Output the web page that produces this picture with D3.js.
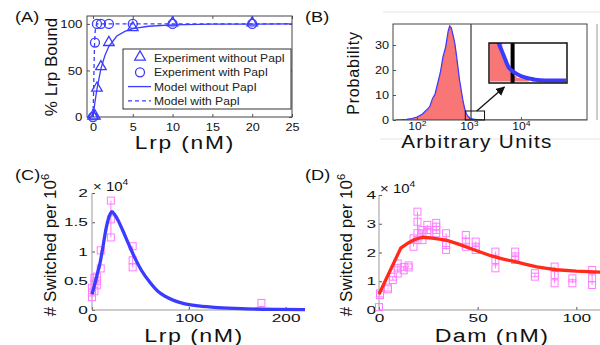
<!DOCTYPE html>
<html>
<head>
<meta charset="utf-8">
<script src="https://cdnjs.cloudflare.com/ajax/libs/d3/7.8.5/d3.min.js"></script>
<style>
  body { margin: 0; background: #fff; }
  svg { font-family: "Liberation Sans", Arial, sans-serif; }
</style>
</head>
<body>
<svg id="fig" width="600" height="345"></svg>
<script>
// ---------- (A) Lrp binding ----------
var aTriX   = [0, 0.25, 0.5, 1, 2, 5, 10, 20];
var aTriY   = [0, 0, 30, 53, 79, 95, 100, 100];
var aCircX  = [0, 0.25, 0.5, 1, 2, 5, 10, 20];
var aCircY  = [0, 80, 100, 100, 100, 100, 100, 100];
var aSolidX = [0, 0.25, 0.5, 1, 1.5, 2, 3, 4, 5, 7, 10, 15, 25];
var aSolidY = [0, 16, 30, 52, 66, 76, 87, 92, 95, 97.5, 99, 99.7, 100];
var aDashX  = [0, 0.05, 0.1, 0.15, 0.2, 0.25, 0.3, 0.4, 0.5, 25];
var aDashY  = [0, 15, 38, 60, 78, 88, 94, 98, 100, 100];
var aXTicks = [0, 5, 10, 15, 20, 25];
var aYTicks = [0, 50, 100];
var aLegend = ["Experiment without PapI", "Experiment with PapI", "Model without PapI", "Model with PapI"];

// ---------- (B) histogram, log10 of arbitrary units ----------
var bRedExp  = [1.6,1.7,1.8,1.9,2.0,2.1,2.2,2.25,2.3,2.35,2.4,2.45,2.5,2.55,2.6,2.63,2.66,2.7,2.73,2.76,2.79,2.82,2.86,2.89,2.92,2.95,2.98,3.02,3.08,3.15,3.25];
var bRed     = [0,0.05,0.2,0.5,1.0,2.0,3.8,5.3,7.5,10,13.5,18.5,24,28.5,34,38,36,33,30,25,20,15,10,6.5,4,2.3,1.3,0.6,0.3,0.1,0];
var bBlueExp = [1.6,1.7,1.8,1.9,2.0,2.1,2.2,2.25,2.3,2.35,2.4,2.45,2.5,2.55,2.6,2.63,2.66,2.7,2.73,2.76,2.79,2.82,2.86,2.89,2.92,2.95,2.98,3.02,3.08,3.15,3.25,4.0,5.3];
var bBlue    = [0,0.1,0.3,0.6,1.2,2.3,4.3,5.6,8.6,10.5,14.8,19,25.2,29,35.5,37.5,37,33.5,30.5,26,21,16,11,7.2,4.5,2.6,1.5,0.8,0.4,0.15,0,0,0];
var bThreshold = 3.04;
var bYTicks = [0, 10, 20, 30];
var bXTicks = [100, 1000, 10000];
var insetExp  = [2.93,2.95,2.97,2.99,3.0,3.01,3.02,3.04,3.06,3.08,3.1,3.12,3.15,3.2,3.3];
var insetRed  = [1.6,1.4,1.2,0.8,0.6,0.45,0.32,0.15,0.1,0.09,0.08,0,0,0,0];
var insetBlue = [1.9,1.6,1.15,0.85,0.7,0.55,0.42,0.3,0.22,0.16,0.12,0.09,0.05,0.03,0.03];

// ---------- (C) switching vs Lrp ----------
var cLrp      = [0, 2.5, 5, 9, 19.5, 42, 175];
var cSwitched = [[0.22,0.3,0.38],[0.32,0.45,0.55],[0.42,0.5,0.57],[0.71,1.02],[1.24,1.55,1.87],[0.73,0.85,1.09],[0.12]];
var cModelX   = [0,3,6,8.5,11,13.5,16,18.5,20.5,23,27,32,37.5,44,51,60,68,76,85,95,110,130,160,190,220];
var cModelY   = [0.27,0.45,0.65,0.82,1.05,1.3,1.5,1.63,1.68,1.64,1.53,1.35,1.14,0.9,0.68,0.47,0.32,0.23,0.16,0.11,0.07,0.04,0.02,0.01,0.005];
var cXTicks = [0, 100, 200];
var cYTicks = [0, 0.5, 1, 1.5, 2];

// ---------- (D) switching vs Dam ----------
var dDam      = [0,0.5,4.5,7,9.5,12.5,15,17.5,19.5,22,24.5,29,34,44,49,59,69,79,89,98,108];
var dSwitched = [[0.1],[0.52,0.58],[0.72,0.78],[1.04,1.16],[1.27,1.45,1.62],[1.38,1.5],[1.48,1.55],[2.2,2.49],[2.43,2.67,3.07,3.42],[2.43,2.67,2.78],[2.67,2.78,2.96],[2.67,2.78,2.9,3.03],[2.09,2.26,2.67],[2.2,2.38,2.61],[2.09,2.2,2.38],[1.45,1.74,2.03],[1.74,1.86,2.03],[1.16,1.28],[0.93,1.22,1.51],[0.93,1.1],[0.87,1.1,1.39]];
var dModelX   = [0,11,13,15,18,22,27,34,40,46,52,57,63,69,75,80,85,90,100,112];
var dModelY   = [0.55,2.15,2.25,2.34,2.45,2.53,2.5,2.43,2.3,2.15,2.0,1.88,1.77,1.68,1.58,1.5,1.45,1.4,1.35,1.32];
var dXTicks = [0, 50, 100];
var dYTicks = [0, 1, 2, 3, 4];

var blue = "#3b3bff", pink = "#ff7cff", red = "#ff2a1a", salmon = "#f87676";
var svg = d3.select("#fig");
var fmt = d3.format("~g");

function styleAxis(g, size, sx) {
  g.select(".domain").remove();
  g.selectAll(".tick line").attr("stroke", "#555");
  g.selectAll(".tick text").attr("font-size", size).attr("fill", "#111")
    .attr("transform", "scale(" + sx + ",1)");
}

// horizontal text, slightly stretched like the original figure
function label(x, y, txt, size, sx, anchor) {
  return svg.append("g").attr("transform", "translate(" + x + "," + y + ")")
    .append("text").attr("transform", "scale(" + sx + ",1)")
    .attr("text-anchor", anchor || "start").attr("font-size", size).attr("fill", "#111").text(txt);
}

function vlabel(x, y, size, main, sup) {
  var t = svg.append("text").attr("transform", "translate(" + x + "," + y + ") rotate(-90)")
    .attr("text-anchor", "middle").attr("font-size", size).attr("fill", "#111");
  t.append("tspan").text(main);
  if (sup) t.append("tspan").attr("dy", -7).attr("font-size", size * 0.65).text(sup);
  return t;
}

function zip(xs, ys) { return xs.map(function(x, i) { return [x, ys[i]]; }); }

// ================= (A) =================
var xA = d3.scaleLinear().domain([-0.75, 25]).range([87, 292]);
var yA = d3.scaleLinear().domain([0, 108.5]).range([117, 16]);

svg.append("g").attr("transform", "translate(0,117)")
  .call(d3.axisBottom(xA).tickValues(aXTicks).tickSizeInner(-3).tickSizeOuter(0).tickPadding(6))
  .call(styleAxis, 11, 1.15);
svg.append("g").attr("transform", "translate(87,0)")
  .call(d3.axisLeft(yA).tickValues(aYTicks).tickSizeInner(-3).tickSizeOuter(0).tickPadding(4))
  .call(styleAxis, 11.5, 1.15);
svg.append("g").attr("transform", "translate(0,16)")
  .call(d3.axisTop(xA).tickValues(aXTicks).tickSizeInner(-3).tickSizeOuter(0).tickFormat(""))
  .call(styleAxis, 11, 1);
svg.append("g").attr("transform", "translate(292,0)")
  .call(d3.axisRight(yA).tickValues(aYTicks).tickSizeInner(-3).tickSizeOuter(0).tickFormat(""))
  .call(styleAxis, 11, 1);
svg.append("rect").attr("x", 87).attr("y", 16).attr("width", 205).attr("height", 101)
  .attr("fill", "none").attr("stroke", "#444");

var lineA = d3.line().x(function(d) { return xA(d[0]); }).y(function(d) { return yA(d[1]); });
svg.append("path").attr("d", lineA(zip(aSolidX, aSolidY))).attr("fill", "none").attr("stroke", blue).attr("stroke-width", 1.3);
svg.append("path").attr("d", lineA(zip(aDashX, aDashY))).attr("fill", "none").attr("stroke", blue)
  .attr("stroke-width", 1.3).attr("stroke-dasharray", "4,3");

var tri = d3.symbol().type(d3.symbolTriangle).size(48);
svg.selectAll(".triA").data(zip(aTriX, aTriY)).enter().append("path")
  .attr("transform", function(d) { return "translate(" + xA(d[0]) + "," + (yA(d[1]) - 1) + ")"; })
  .attr("d", tri).attr("fill", "none").attr("stroke", blue).attr("stroke-width", 1.3);
svg.selectAll(".circA").data(zip(aCircX, aCircY)).enter().append("circle")
  .attr("cx", function(d) { return xA(d[0]); }).attr("cy", function(d) { return yA(d[1]); })
  .attr("r", 4.5).attr("fill", "none").attr("stroke", blue).attr("stroke-width", 1.3);

// legend
var leg = svg.append("g");
leg.append("rect").attr("x", 123).attr("y", 49).attr("width", 168).attr("height", 60)
  .attr("fill", "#fff").attr("stroke", "#333");
aLegend.forEach(function(name, i) {
  var cy = 58 + i * 14.3;
  if (i == 0) leg.append("path").attr("transform", "translate(140," + (cy - 1) + ")").attr("d", tri)
    .attr("fill", "none").attr("stroke", blue).attr("stroke-width", 1.3);
  if (i == 1) leg.append("circle").attr("cx", 140).attr("cy", cy).attr("r", 4.5)
    .attr("fill", "none").attr("stroke", blue).attr("stroke-width", 1.3);
  if (i >= 2) leg.append("line").attr("x1", 128).attr("x2", 151).attr("y1", cy).attr("y2", cy)
    .attr("stroke", blue).attr("stroke-width", 1.3).attr("stroke-dasharray", i == 3 ? "4,3" : null);
  leg.append("g").attr("transform", "translate(154," + (cy + 4) + ")")
    .append("text").attr("transform", "scale(1.1,1)").attr("font-size", 11).attr("fill", "#222").text(name);
});

label(15, 22, "(A)", 14, 1.3);
vlabel(57, 67, 17, "% Lrp Bound");
label(185, 149, "Lrp (nM)", 17.5, 1.3, "middle").attr("letter-spacing", 1.4);

// ================= (B) =================
var xB = d3.scaleLog().domain([Math.pow(10, 1.54), Math.pow(10, 5.27)]).range([393, 587]);
var yB = d3.scaleLinear().domain([0, 38.4]).range([120, 24]);

svg.append("line").attr("x1", 383).attr("x2", 600).attr("y1", 12).attr("y2", 12).attr("stroke", "#e4e4e4");
svg.append("line").attr("x1", 380).attr("x2", 600).attr("y1", 139).attr("y2", 139).attr("stroke", "#e4e4e4");
svg.append("line").attr("x1", 597).attr("x2", 597).attr("y1", 24).attr("y2", 120).attr("stroke", "#999");

svg.append("defs").append("clipPath").attr("id", "clipB")
  .append("rect").attr("x", 393).attr("y", 24).attr("width", 194).attr("height", 96);

var gB = svg.append("g").attr("clip-path", "url(#clipB)");
var areaB = d3.area().x(function(d) { return xB(Math.pow(10, d[0])); }).y0(yB(0)).y1(function(d) { return yB(d[1]); });
var lineB = d3.line().x(function(d) { return xB(Math.pow(10, d[0])); }).y(function(d) { return yB(d[1]); });
gB.append("path").attr("d", areaB(zip(bRedExp, bRed))).attr("fill", salmon).attr("stroke", "#ee4444").attr("stroke-width", 0.7);
gB.append("path").attr("d", lineB(zip(bBlueExp, bBlue))).attr("fill", "none").attr("stroke", blue).attr("stroke-width", 1.2);

svg.append("line").attr("x1", xB(Math.pow(10, bThreshold))).attr("x2", xB(Math.pow(10, bThreshold)))
  .attr("y1", 24).attr("y2", 120).attr("stroke", "#444").attr("stroke-width", 1.3);

svg.append("g").attr("transform", "translate(0,120)")
  .call(d3.axisBottom(xB).tickValues(bXTicks).tickSizeInner(-3).tickSizeOuter(0).tickPadding(3))
  .call(styleAxis, 10.5, 1.15)
  .selectAll(".tick text").each(function(d) {
    var t = d3.select(this).text("");
    t.append("tspan").text("10");
    t.append("tspan").attr("dy", -4).attr("font-size", 7.5).text(Math.round(Math.log10(d)));
  });
svg.append("g").attr("transform", "translate(393,0)")
  .call(d3.axisLeft(yB).tickValues(bYTicks).tickSizeInner(-3).tickSizeOuter(0).tickPadding(3.5))
  .call(styleAxis, 11, 1.15);
svg.append("rect").attr("x", 393).attr("y", 24).attr("width", 194).attr("height", 96)
  .attr("fill", "none").attr("stroke", "#444");

// zoom box and arrow
var boxX0 = xB(Math.pow(10, insetExp[0])), boxX1 = xB(Math.pow(10, insetExp[insetExp.length - 1]));
svg.append("rect").attr("x", boxX0).attr("y", yB(3.6)).attr("width", boxX1 - boxX0).attr("height", yB(0) - yB(3.6))
  .attr("fill", "none").attr("stroke", "#111").attr("stroke-width", 1);

var xIn = d3.scaleLinear().domain([insetExp[0], insetExp[insetExp.length - 1]]).range([490, 566]);
var yIn = d3.scaleLinear().domain([0, 1.1]).range([81.5, 43.5]);
svg.select("defs").append("clipPath").attr("id", "clipIn")
  .append("rect").attr("x", 489).attr("y", 43).attr("width", 78).attr("height", 40);
svg.select("defs").append("marker").attr("id", "arrow").attr("viewBox", "0 0 10 10")
  .attr("refX", 9).attr("refY", 5).attr("markerWidth", 7).attr("markerHeight", 7).attr("orient", "auto")
  .append("path").attr("d", "M0,0 L10,5 L0,10 z").attr("fill", "#111");
svg.append("line").attr("x1", xB(Math.pow(10, 3.15))).attr("y1", yB(3.6))
  .attr("x2", xIn(3.0)).attr("y2", 87).attr("stroke", "#111").attr("stroke-width", 1.3)
  .attr("marker-end", "url(#arrow)");

var gIn = svg.append("g").attr("clip-path", "url(#clipIn)");
gIn.append("rect").attr("x", 489).attr("y", 43).attr("width", 78).attr("height", 40).attr("fill", "#fff");
gIn.append("path").attr("d", d3.area().curve(d3.curveStepAfter).x(function(d) { return xIn(d[0]); })
    .y0(yIn(0)).y1(function(d) { return yIn(d[1]); })(zip(insetExp, insetRed)))
  .attr("fill", salmon);
gIn.append("line").attr("x1", xIn(bThreshold)).attr("x2", xIn(bThreshold)).attr("y1", 43).attr("y2", 83)
  .attr("stroke", "#000").attr("stroke-width", 4);
gIn.append("path").attr("d", d3.line().curve(d3.curveMonotoneX).x(function(d) { return xIn(d[0]); })
    .y(function(d) { return yIn(d[1]); })(zip(insetExp, insetBlue)))
  .attr("fill", "none").attr("stroke", blue).attr("stroke-width", 4);
svg.append("rect").attr("x", 489).attr("y", 43).attr("width", 78).attr("height", 40)
  .attr("fill", "none").attr("stroke", "#111").attr("stroke-width", 1.5);

label(305, 22, "(B)", 14, 1.3);
vlabel(359, 73, 16, "Probability").attr("letter-spacing", 0.8);
label(477, 148, "Arbitrary Units", 18, 1.15, "middle").attr("letter-spacing", 1.2);

// ================= (C) and (D) =================
function switchPanel(xs, groups, mx, my, xScale, yScale, lineColor, curve, xTicks, yTicks, yPad) {
  var x0 = xScale.range()[0], y0 = yScale.range()[0];
  svg.append("g").attr("transform", "translate(0," + y0 + ")")
    .call(d3.axisBottom(xScale).tickValues(xTicks).tickFormat(fmt).tickSizeInner(-3).tickSizeOuter(0).tickPadding(4))
    .call(styleAxis, 11.5, 1.5);
  svg.append("g").attr("transform", "translate(" + x0 + ",0)")
    .call(d3.axisLeft(yScale).tickValues(yTicks).tickFormat(fmt).tickSizeInner(-3).tickSizeOuter(0).tickPadding(yPad))
    .call(styleAxis, 11.5, 1.5);
  svg.append("line").attr("x1", x0).attr("x2", xScale.range()[1]).attr("y1", y0).attr("y2", y0).attr("stroke", "#999");
  svg.append("line").attr("x1", x0).attr("x2", x0).attr("y1", yScale.range()[1]).attr("y2", y0).attr("stroke", "#999");

  var g = svg.append("g");
  xs.forEach(function(x, i) {
    var v = groups[i];
    g.append("line").attr("x1", xScale(x)).attr("x2", xScale(x))
      .attr("y1", yScale(d3.min(v))).attr("y2", yScale(d3.max(v))).attr("stroke", pink).attr("stroke-width", 1);
    v.forEach(function(y) {
      g.append("rect").attr("x", xScale(x) - 3.5).attr("y", yScale(y) - 3.5).attr("width", 7).attr("height", 7)
        .attr("fill", "none").attr("stroke", pink).attr("stroke-width", 1);
    });
  });
  svg.append("path").attr("d", d3.line().curve(curve)
      .x(function(d) { return xScale(d[0]); }).y(function(d) { return yScale(d[1]); })(zip(mx, my)))
    .attr("fill", "none").attr("stroke", lineColor).attr("stroke-width", 3.3).attr("stroke-linejoin", "round");

  var m = svg.append("g").attr("transform", "translate(" + (x0 + 1) + "," + (yScale.range()[1] - 2) + ")")
    .append("text").attr("transform", "scale(1.15,1)").attr("font-size", 13).attr("fill", "#111");
  m.append("tspan").text("\u00d7 10");
  m.append("tspan").attr("dy", -6).attr("font-size", 9).text("4");
}

var xC = d3.scaleLinear().domain([0, 220]).range([92, 305]);
var yC = d3.scaleLinear().domain([0, 2]).range([310, 193]);
switchPanel(cLrp, cSwitched, cModelX, cModelY, xC, yC, blue, d3.curveMonotoneX, cXTicks, cYTicks, 2.7);
label(15, 180, "(C)", 14, 1.3);
vlabel(56, 245, 17, "# Switched per 10", "6");
label(194, 342, "Lrp (nM)", 19, 1.22, "middle").attr("letter-spacing", 1.2);

var xD = d3.scaleLinear().domain([0, 112]).range([379, 600]);
var yD = d3.scaleLinear().domain([0, 4]).range([310, 195]);
switchPanel(dDam, dSwitched, dModelX, dModelY, xD, yD, red, d3.curveLinear, dXTicks, dYTicks, 2);
label(305, 180, "(D)", 14, 1.3);
vlabel(352, 245, 17, "# Switched per 10", "6");
label(492, 342, "Dam (nM)", 19, 1.22, "middle").attr("letter-spacing", 1.2);
</script>
</body>
</html>
